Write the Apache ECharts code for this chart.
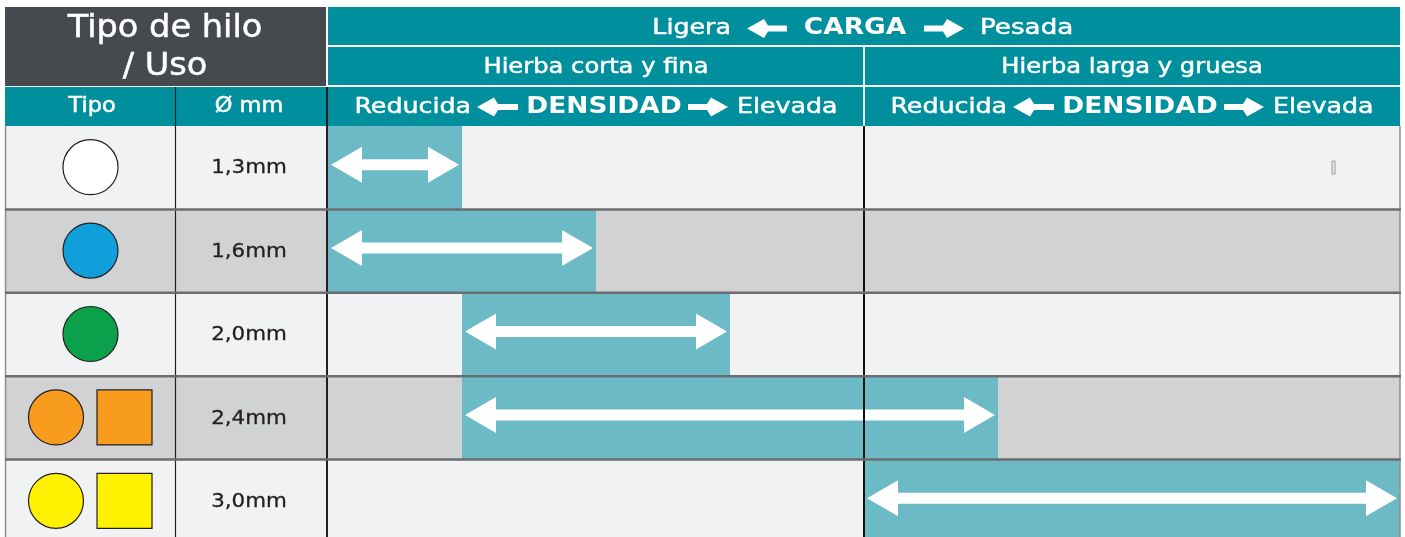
<!DOCTYPE html>
<html><head><meta charset="utf-8">
<script src="https://cdn.jsdelivr.net/npm/echarts@6/dist/echarts.min.js"></script>
<style>html,body{margin:0;padding:0;background:#fff}#c{width:1405px;height:537px}</style>
</head><body><div id="c"></div>
<script>
// ---- data ----
const rowLabels = ['1,3mm', '1,6mm', '2,0mm', '2,4mm', '3,0mm'];
const symbolColors = ['#ffffff', '#0f9fdb', '#0ba14b', '#f79c1f', '#fff200'];
const symbolShapes = [['circle'], ['circle'], ['circle'], ['circle', 'square'], ['circle', 'square']];
const rangeStart = [0, 0, 1, 1, 4];
const rangeEnd = [1, 2, 3, 5, 8];
const densityMax = 8;
const grassTypes = ['Hierba corta y fina', 'Hierba larga y gruesa'];
const densityLabels = ['Reducida', 'DENSIDAD', 'Elevada'];
const loadLabels = ['Ligera', 'CARGA', 'Pesada'];
const headerTitle = ['Tipo de hilo', '/ Uso'];
const columnHeaders = ['Tipo', 'Ø mm'];

// ---- layout / style ----
const GL = 328, GT = 126, GW = 1072, GH = 417;
const LL = 5, LW = 322;
const C = {teal: '#008f9c', bar: '#6cbac6', dark: '#46494d', light: '#f1f2f4', gray: '#d1d2d4',
  sep: '#6b6c6f', ink: '#231f20', border: '#8d8e90'};
const FF = '"DejaVu Sans", sans-serif';
const SX = 1.15;

function band(api, idx) {
  const c = api.coord([0, idx]);
  const h = api.size([0, 1])[1];
  return {y: c[1] - h / 2, h: h, yc: c[1]};
}
function dblArrow(x0, x1, yc) {
  const hl = 31, hh = 18, sh = 5.5;
  return [[x0, yc], [x0 + hl, yc - hh], [x0 + hl, yc - sh], [x1 - hl, yc - sh], [x1 - hl, yc - hh],
    [x1, yc], [x1 - hl, yc + hh], [x1 - hl, yc + sh], [x0 + hl, yc + sh], [x0 + hl, yc + hh]];
}
function hArrow(x0, x1, yc, dir) {
  const hb = 17, hj = 21, hh = 9.5, sh = 2.9;
  if (dir < 0) return [[x0, yc], [x0 + hb, yc - hh], [x0 + hj, yc - sh], [x1, yc - sh], [x1, yc + sh], [x0 + hj, yc + sh], [x0 + hb, yc + hh]];
  return [[x1, yc], [x1 - hb, yc - hh], [x1 - hj, yc - sh], [x0, yc - sh], [x0, yc + sh], [x1 - hj, yc + sh], [x1 - hb, yc + hh]];
}
function txt(text, x, y, size, bold, align, sx, fill) {
  const f = fill || '#fff';
  return {type: 'text', x: x, y: y, z: 10, silent: true, scaleX: sx || 1,
    style: {text: text, fill: f, stroke: bold ? null : f, lineWidth: bold ? 0 : 0.5,
      fontSize: size, fontFamily: FF, fontWeight: bold ? 'bold' : 'normal',
      align: align || 'center', verticalAlign: 'middle', textAlign: align || 'center', textVerticalAlign: 'middle'}};
}
function poly(points, fill) { return {type: 'polygon', z: 10, silent: true, shape: {points: points}, style: {fill: fill || '#fff'}}; }
function rect(x, y, w, h, fill) { return {type: 'rect', z: 5, silent: true, shape: {x: x, y: y, width: w, height: h}, style: {fill: fill}}; }
function vline(x, y0, y1, color, w) { return {type: 'line', z: 8, silent: true, shape: {x1: x, y1: y0, x2: x, y2: y1}, style: {stroke: color, lineWidth: w}}; }

// header graphics
const unit = GW / densityMax;
const midX = GL + unit * densityMax / 2;
const graphics = [
  rect(LL, 7, 321, 79, C.dark),
  rect(GL, 7, GW, 38, C.teal),
  rect(GL, 47, GW, 38, C.teal),
  rect(LL, 87, GL + GW - LL, 39, C.teal),
  vline(midX, 47, 126, '#e8f4f5', 2),
  vline(175.5, 87, 126, C.ink, 1.2),
  vline(327, 87, 126, C.ink, 2),
  txt(headerTitle[0], 165, 29, 32, false, 'center', 1.05),
  txt(headerTitle[1], 165, 67, 32, false, 'center', 1.05),
  txt(columnHeaders[0], 92, 107, 21, false, 'center', 1.07),
  txt(columnHeaders[1], 249, 107, 21, false, 'center', 1.07),
  // CARGA row
  txt(loadLabels[0], 731, 28, 22, false, 'right', SX),
  poly(hArrow(747, 787, 28.5, -1)),
  txt(loadLabels[1], 855, 28, 23, true, 'center', SX),
  poly(hArrow(924, 964, 28.5, 1)),
  txt(loadLabels[2], 980, 28, 22, false, 'left', 1.19),
  // tiny mark
  {type: 'rect', z: 9, silent: true, shape: {x: 1332, y: 161, width: 3, height: 13}, style: {fill: '#e6e7e9', stroke: '#9a9b9d', lineWidth: 1}}
];
[0, 1].forEach(function (k) {
  const cx = GL + unit * (k * 4 + 2);
  graphics.push(txt(grassTypes[k], cx, 67, 22, false, 'center', 1.1));
  graphics.push(txt(densityLabels[0], cx - 125, 107, 22, false, 'right', SX));
  graphics.push(poly(hArrow(cx - 119, cx - 78, 107, -1)));
  graphics.push(txt(densityLabels[1], cx + 8, 107, 23, true, 'center', SX));
  graphics.push(poly(hArrow(cx + 92, cx + 132, 107, 1)));
  graphics.push(txt(densityLabels[2], cx + 141, 107, 22, false, 'left', SX));
});

const chart = echarts.init(document.getElementById('c'));
chart.setOption({
  backgroundColor: '#ffffff',
  animation: false,
  grid: [
    {left: GL, top: GT, width: GW, height: GH, outerBoundsMode: 'none', containLabel: false},
    {left: LL, top: GT, width: LW, height: GH, outerBoundsMode: 'none', containLabel: false}
  ],
  xAxis: [
    {gridIndex: 0, type: 'value', min: 0, max: densityMax, show: false},
    {gridIndex: 1, type: 'value', min: 0, max: 1, show: false}
  ],
  yAxis: [
    {gridIndex: 0, type: 'category', data: rowLabels, inverse: true, show: false},
    {gridIndex: 1, type: 'category', data: rowLabels, inverse: true, show: false}
  ],
  graphic: graphics,
  series: [
    { // row backgrounds
      type: 'custom', xAxisIndex: 0, yAxisIndex: 0, z: 1, silent: true,
      data: rowLabels.map(function (_, i) { return [0, i]; }), encode: {x: 0, y: 1},
      renderItem: function (params, api) {
        const i = params.dataIndex, cs = params.coordSys, b = band(api, i);
        return {type: 'rect', shape: {x: cs.x, y: b.y, width: cs.width, height: b.h}, style: {fill: i % 2 ? C.gray : C.light}};
      }
    },
    { // ranges with arrows
      type: 'custom', xAxisIndex: 0, yAxisIndex: 0, z: 2, silent: true,
      data: rangeStart.map(function (s, i) { return [s, rangeEnd[i], i]; }), encode: {x: [0, 1], y: 2},
      renderItem: function (params, api) {
        const i = params.dataIndex;
        const p0 = api.coord([api.value(0), i]), p1 = api.coord([api.value(1), i]);
        const h = api.size([0, 1])[1];
        return {type: 'group', children: [
          {type: 'rect', shape: {x: p0[0], y: p0[1] - h / 2, width: p1[0] - p0[0], height: h}, style: {fill: C.bar}},
          {type: 'polygon', shape: {points: dblArrow(p0[0] + 3, p1[0] - 3, p0[1] - 3)}, style: {fill: '#ffffff'}}
        ]};
      }
    },
    { // left table
      type: 'custom', xAxisIndex: 1, yAxisIndex: 1, z: 2, silent: true,
      data: rowLabels.map(function (_, i) { return [0.5, i]; }), encode: {x: 0, y: 1},
      renderItem: function (params, api) {
        const i = params.dataIndex, cs = params.coordSys, b = band(api, i);
        const kids = [{type: 'rect', shape: {x: cs.x, y: b.y, width: cs.width, height: b.h}, style: {fill: i % 2 ? C.gray : C.light}}];
        const r = 27.5;
        const shapes = symbolShapes[i];
        const offs = shapes.length === 1 ? [85.5] : [51, 119.5];
        shapes.forEach(function (s, k) {
          const cx = cs.x + offs[k];
          if (s === 'circle') kids.push({type: 'circle', shape: {cx: cx, cy: b.yc - 0.5, r: r}, style: {fill: symbolColors[i], stroke: C.ink, lineWidth: 1.2}});
          else kids.push({type: 'rect', shape: {x: cx - r, y: b.yc - r - 0.5, width: 2 * r, height: 2 * r}, style: {fill: symbolColors[i], stroke: C.ink, lineWidth: 1.2}});
        });
        kids.push({type: 'text', x: cs.x + 244, y: b.yc + 0.5, scaleX: 1.07, style: {text: rowLabels[i], fill: C.ink, stroke: C.ink, lineWidth: 0.3,
          fontSize: 20, fontFamily: FF, align: 'center', verticalAlign: 'middle', textAlign: 'center', textVerticalAlign: 'middle'}});
        kids.push({type: 'line', shape: {x1: cs.x + 170.5, y1: b.y, x2: cs.x + 170.5, y2: b.y + b.h}, style: {stroke: C.ink, lineWidth: 1.2}});
        kids.push({type: 'line', shape: {x1: cs.x + cs.width, y1: b.y, x2: cs.x + cs.width, y2: b.y + b.h}, style: {stroke: C.ink, lineWidth: 2}});
        return {type: 'group', children: kids};
      }
    },
    { // separators and dividers
      type: 'custom', xAxisIndex: 0, yAxisIndex: 0, z: 4, silent: true,
      data: rowLabels.map(function (_, i) { return [densityMax / 2, i]; }), encode: {x: 0, y: 1},
      renderItem: function (params, api) {
        const i = params.dataIndex, cs = params.coordSys, b = band(api, i);
        const d = api.coord([api.value(0), i]);
        const kids = [
          {type: 'line', shape: {x1: d[0], y1: b.y, x2: d[0], y2: b.y + b.h}, style: {stroke: '#111111', lineWidth: 2}},
          {type: 'line', shape: {x1: LL + 0.5, y1: b.y, x2: LL + 0.5, y2: b.y + b.h}, style: {stroke: C.border, lineWidth: 1.5}},
          {type: 'line', shape: {x1: cs.x + cs.width, y1: b.y, x2: cs.x + cs.width, y2: b.y + b.h}, style: {stroke: C.border, lineWidth: 1.5}}
        ];
        if (i > 0) kids.push({type: 'line', shape: {x1: LL, y1: b.y, x2: cs.x + cs.width + 1, y2: b.y}, style: {stroke: C.sep, lineWidth: 2.5}});
        return {type: 'group', children: kids};
      }
    }
  ]
});
</script>
</body></html>
